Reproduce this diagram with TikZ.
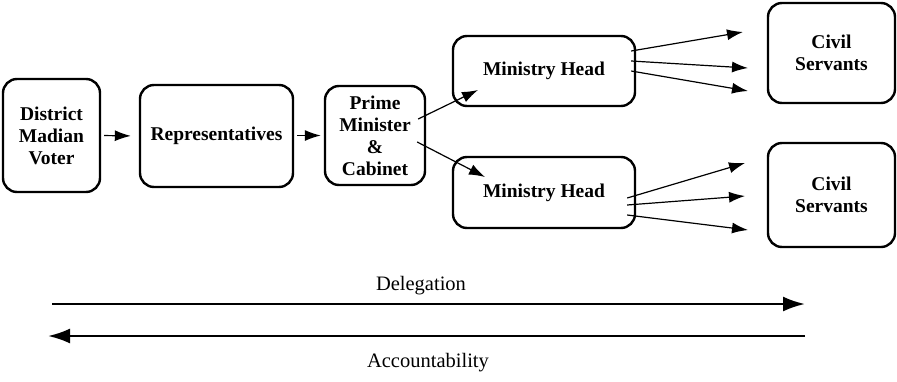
\documentclass[tikz,border=0pt]{standalone}
\usepackage{fontspec}
\setmainfont{Liberation Serif}
\usetikzlibrary{arrows.meta,calc}
\begin{document}
\begin{tikzpicture}[x=1pt,y=-1pt,
  box/.style={draw,line width=2.4pt,rounded corners=14pt,align=center,inner sep=0pt,
    font=\fontsize{19.5}{22}\selectfont\bfseries},
  thin/.style={line width=1.2pt,-{Latex[length=16pt,width=11pt]}},
  big/.style={line width=2.4pt,-{Latex[length=22pt,width=15pt]}},
  lbl/.style={font=\fontsize{20.5}{22}\selectfont}]
\useasboundingbox (0,0) rectangle (897,381);
\node[box,minimum width=97pt,minimum height=113pt] (dv) at (51.5,135.5) {District\\Madian\\Voter};
\node[box,minimum width=153pt,minimum height=102pt] (rep) at (216.5,136) {Representatives};
\node[box,minimum width=100pt,minimum height=99pt] (pm) at (375,135.5) {Prime\\Minister\\\&\\Cabinet};
\node[box,minimum width=182pt,minimum height=70pt] (mh1) at (544,71) {Ministry Head};
\node[box,minimum width=182pt,minimum height=71pt] (mh2) at (544,192.5) {Ministry Head};
\node[box,minimum width=127pt,minimum height=100pt] (cs1) at (831.5,53) {Civil\\Servants};
\node[box,minimum width=127pt,minimum height=104pt] (cs2) at (831.5,195) {Civil\\Servants};
% main chain
\draw[thin,shorten <=3pt,shorten >=8pt] (dv.east) -- (rep.west);
\draw[thin,shorten <=3pt,shorten >=3pt] (rep.east|-dv.east) -- (pm.west|-dv.east);
% PM to ministry heads
\coordinate (t1) at (478,90);
\coordinate (t2) at (485,177);
\draw[thin] ([shift={(-8,-16.5)}]pm.east) -- (t1);
\draw[thin] ([shift={(-9,6.5)}]pm.east) -- (t2);
% fan to civil servants (top)
\coordinate (a1) at (743,32);
\coordinate (a2) at (748,68);
\coordinate (a3) at (748,91);
\draw[thin] ([shift={(-5,-20)}]mh1.east) -- (a1);
\draw[thin] ([shift={(-5,-10)}]mh1.east) -- (a2);
\draw[thin] ([shift={(-5,0)}]mh1.east) -- (a3);
% fan to civil servants (bottom)
\coordinate (b1) at (745,163);
\coordinate (b2) at (745,196);
\coordinate (b3) at (748,230);
\draw[thin] ([shift={(-9,5.5)}]mh2.east) -- (b1);
\draw[thin] ([shift={(-9,12.5)}]mh2.east) -- (b2);
\draw[thin] ([shift={(-9,22.5)}]mh2.east) -- (b3);
% delegation / accountability
\coordinate (dl) at (52,304);
\coordinate (dr) at (805,304);
\coordinate (al) at (48,336);
\coordinate (ar) at (805,336);
\draw[big] (dl) -- (dr);
\draw[big] (ar) -- (al);
\node[lbl] (deleg) at (421,286) {Delegation};
\node[lbl] (acc) at (428,362.5) {Accountability};
\end{tikzpicture}
\end{document}
